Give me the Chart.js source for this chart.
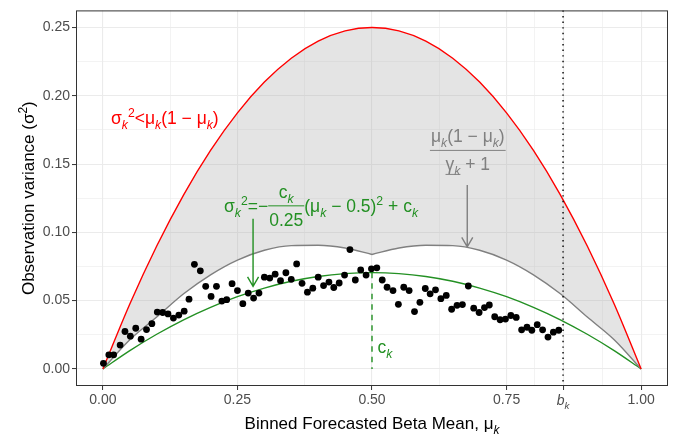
<!DOCTYPE html>
<html>
<head>
<meta charset="utf-8">
<script src="https://cdn.jsdelivr.net/npm/chart.js@4.4.0/dist/chart.umd.min.js"></script>
<style>
  html, body { margin: 0; padding: 0; background: #fff; }
</style>
</head>
<body>
<canvas id="chart" width="684" height="434"></canvas>
<script>
// binned forecasted beta means and the observed variance in each bin
const binMean = [
  0.001, 0.011, 0.020, 0.032, 0.041, 0.051, 0.061, 0.071, 0.081, 0.091,
  0.101, 0.111, 0.121, 0.131, 0.141, 0.151, 0.160, 0.170, 0.181, 0.191,
  0.201, 0.211, 0.221, 0.230, 0.240, 0.250, 0.260, 0.270, 0.280, 0.290,
  0.300, 0.310, 0.320, 0.330, 0.340, 0.350, 0.360, 0.370, 0.380, 0.390,
  0.400, 0.410, 0.420, 0.429, 0.439, 0.449, 0.459, 0.469, 0.479, 0.489,
  0.499, 0.509, 0.519, 0.528, 0.539, 0.549, 0.559, 0.569, 0.579, 0.589,
  0.599, 0.608, 0.618, 0.628, 0.638, 0.648, 0.658, 0.668, 0.679, 0.689,
  0.699, 0.709, 0.718, 0.728, 0.738, 0.748, 0.758, 0.768, 0.778, 0.788,
  0.797, 0.807, 0.817, 0.827, 0.837, 0.847
];
const obsVar = [
  0.0041, 0.0103, 0.0103, 0.0175, 0.0274, 0.0240, 0.0298, 0.0218, 0.0288, 0.0331,
  0.0416, 0.0413, 0.0403, 0.0372, 0.0394, 0.0423, 0.0511, 0.0766, 0.0718, 0.0605,
  0.0531, 0.0605, 0.0497, 0.0507, 0.0624, 0.0574, 0.0478, 0.0555, 0.0519, 0.0555,
  0.0672, 0.0665, 0.0694, 0.0646, 0.0704, 0.0656, 0.0769, 0.0627, 0.0562, 0.0591,
  0.0672, 0.0610, 0.0636, 0.0596, 0.0629, 0.0687, 0.0874, 0.0651, 0.0725, 0.0687,
  0.0733, 0.0740, 0.0651, 0.0598, 0.0574, 0.0473, 0.0598, 0.0574, 0.0420, 0.0488,
  0.0589, 0.0550, 0.0579, 0.0514, 0.0538, 0.0437, 0.0466, 0.0471, 0.0607, 0.0445,
  0.0413, 0.0449, 0.0468, 0.0382, 0.0360, 0.0365, 0.0391, 0.0377, 0.0286, 0.0305,
  0.0283, 0.0324, 0.0286, 0.0233, 0.0269, 0.0283
];

// the three bound curves, read every 0.05 along mu
const curveMu = [0.00, 0.05, 0.10, 0.15, 0.20, 0.25, 0.30, 0.35, 0.40, 0.45, 0.50,
                 0.55, 0.60, 0.65, 0.70, 0.75, 0.80, 0.85, 0.90, 0.95, 1.00];
const upperBound = [0, 0.0475, 0.0900, 0.1275, 0.1600, 0.1875, 0.2100, 0.2275, 0.2400, 0.2475, 0.2500,
                    0.2475, 0.2400, 0.2275, 0.2100, 0.1875, 0.1600, 0.1275, 0.0900, 0.0475, 0];
const grayBound = [0, 0.0214, 0.0380, 0.0550, 0.0689, 0.0797, 0.0869, 0.0903, 0.0905, 0.0885, 0.0838,
                   0.0885, 0.0905, 0.0903, 0.0869, 0.0797, 0.0689, 0.0550, 0.0380, 0.0214, 0];
const greenFit = [0, 0.0134, 0.0254, 0.0360, 0.0451, 0.0529, 0.0592, 0.0642, 0.0677, 0.0698, 0.0705,
                  0.0698, 0.0677, 0.0642, 0.0592, 0.0529, 0.0451, 0.0360, 0.0254, 0.0134, 0];

const bK = 0.855;
const cK = 0.0705;

const xBreaks = [0, 0.25, 0.5, 0.75, bK, 1];
const xLabels = ['0.00', '0.25', '0.50', '0.75', '', '1.00'];
const yBreaks = [0, 0.05, 0.10, 0.15, 0.20, 0.25];
const yLabels = ['0.00', '0.05', '0.10', '0.15', '0.20', '0.25'];

const RED = '#ff0000';
const GREEN = '#239023';
const GRAY = '#808080';
const FONT = '"Liberation Sans", Arial, sans-serif';
const TICK_SIZE = 14;

function pts(xs, ys) {
  return xs.map((v, i) => ({ x: v, y: ys[i] }));
}
// minor grid lines sit half way between the breaks
function withMinor(br) {
  const out = [];
  br.forEach((v, i) => {
    if (i > 0) out.push((br[i - 1] + v) / 2);
    out.push(v);
  });
  return out;
}
const isMajor = (br, v) => br.some(b => Math.abs(b - v) < 1e-9);

const half = Math.floor(curveMu.length / 2);
const leftMu = curveMu.slice(0, half + 1), rightMu = curveMu.slice(half);

// ---- plotmath-ish text helpers ----
function partFont(kind, size) {
  const small = kind === 'sub' || kind === 'sup';
  const it = kind === 'i' || kind === 'sub';
  return (it ? 'italic ' : '') + (small ? size * 0.7 : size) + 'px ' + FONT;
}
function partDy(kind, size) {
  if (kind === 'sub') return size * 0.28;
  if (kind === 'sup') return -size * 0.42;
  return 0;
}
function measure(ctx, parts, size) {
  let w = 0;
  parts.forEach(([t, k]) => { ctx.font = partFont(k, size); w += ctx.measureText(t).width; });
  return w;
}
function drawParts(ctx, x, y, parts, size) {
  parts.forEach(([t, k]) => {
    ctx.font = partFont(k, size);
    ctx.fillText(t, x, y + partDy(k, size));
    x += ctx.measureText(t).width;
  });
  return x;
}

function arrowDown(ctx, x, y0, y1) {
  ctx.beginPath();
  ctx.moveTo(x, y0); ctx.lineTo(x, y1);
  ctx.moveTo(x - 5.5, y1 - 9.5); ctx.lineTo(x, y1); ctx.lineTo(x + 5.5, y1 - 9.5);
  ctx.stroke();
}

const annotations = {
  id: 'annotations',
  afterDatasetsDraw(chart) {
    const { ctx, chartArea: a, scales: { x, y } } = chart;
    const px = v => x.getPixelForValue(v), py = v => y.getPixelForValue(v);
    ctx.save();
    ctx.lineCap = 'butt';

    // b_k dotted line
    ctx.strokeStyle = '#000';
    ctx.lineWidth = 1.4;
    ctx.setLineDash([1.4, 4.2]);
    ctx.beginPath(); ctx.moveTo(px(bK), a.top); ctx.lineTo(px(bK), a.bottom); ctx.stroke();

    // c_k dashed drop line
    ctx.strokeStyle = GREEN;
    ctx.setLineDash([5.5, 5]);
    ctx.beginPath(); ctx.moveTo(px(0.5), py(cK)); ctx.lineTo(px(0.5), py(0)); ctx.stroke();
    ctx.setLineDash([]);

    // arrows
    ctx.lineWidth = 1.4;
    ctx.strokeStyle = GREEN;
    arrowDown(ctx, px(0.279), py(0.110), py(0.0605));
    ctx.strokeStyle = GRAY;
    arrowDown(ctx, px(0.677), py(0.1347), py(0.0893));

    const S = 17.5;
    ctx.textBaseline = 'alphabetic';
    ctx.textAlign = 'left';

    // red bound label
    ctx.fillStyle = RED;
    drawParts(ctx, px(0.0150), py(0.179), [
      ['σ', 'n'], ['k', 'sub'], ['2', 'sup'], ['<', 'n'], ['μ', 'n'], ['k', 'sub'],
      ['(1 − ', 'n'], ['μ', 'n'], ['k', 'sub'], [')', 'n']
    ], S);

    // green parabola label
    ctx.fillStyle = GREEN;
    ctx.strokeStyle = GREEN;
    const gBase = py(0.115);
    let cx = drawParts(ctx, px(0.225), gBase, [
      ['σ', 'n'], ['k', 'sub'], ['2', 'sup'], ['=', 'n'], ['−', 'n']
    ], S);
    const num = [['c', 'n'], ['k', 'sub']], den = [['0.25', 'n']];
    const nw = measure(ctx, num, S), dw = measure(ctx, den, S);
    const fw = Math.max(nw, dw) + 2;
    const barY = gBase - 6;
    ctx.lineWidth = 1;
    ctx.beginPath(); ctx.moveTo(cx, barY); ctx.lineTo(cx + fw, barY); ctx.stroke();
    drawParts(ctx, cx + (fw - nw) / 2, barY - 8, num, S);
    drawParts(ctx, cx + (fw - dw) / 2, barY + 20, den, S);
    cx += fw;
    drawParts(ctx, cx, gBase, [
      ['(', 'n'], ['μ', 'n'], ['k', 'sub'], [' − 0.5)', 'n'], ['2', 'sup'], [' + c', 'n'], ['k', 'sub']
    ], S);

    // c_k label near the drop line
    drawParts(ctx, px(0.510), py(0.0115), [['c', 'n'], ['k', 'sub']], S);

    // gray bound label (fraction)
    ctx.fillStyle = GRAY;
    ctx.strokeStyle = GRAY;
    const gx = px(0.678), gBar = py(0.160);
    const gnum = [['μ', 'n'], ['k', 'sub'], ['(1 − ', 'n'], ['μ', 'n'], ['k', 'sub'], [')', 'n']];
    const gdenA = [['γ', 'n'], ['k', 'sub']], gdenB = [[' + 1', 'n']];
    const gnw = measure(ctx, gnum, S);
    const gaw = measure(ctx, gdenA, S), gbw = measure(ctx, gdenB, S);
    const gfw = Math.max(gnw, gaw + gbw) + 2;
    ctx.lineWidth = 1;
    ctx.beginPath(); ctx.moveTo(gx - gfw / 2, gBar); ctx.lineTo(gx + gfw / 2, gBar); ctx.stroke();
    drawParts(ctx, gx - gnw / 2, gBar - 8, gnum, S);
    const dx0 = gx - (gaw + gbw) / 2;
    const dEnd = drawParts(ctx, dx0, gBar + 20, gdenA, S);
    ctx.beginPath(); ctx.moveTo(dx0, gBar + 24); ctx.lineTo(dEnd, gBar + 24); ctx.stroke();
    drawParts(ctx, dEnd, gBar + 20, gdenB, S);

    // panel border
    ctx.strokeStyle = '#333333';
    ctx.lineWidth = 1;
    ctx.strokeRect(a.left + 0.5, a.top + 0.5, a.right - a.left - 1, a.bottom - a.top - 1);

    // b_k tick label
    ctx.fillStyle = '#4d4d4d';
    const bParts = [['b', 'i'], ['k', 'sub']];
    const bw = measure(ctx, bParts, TICK_SIZE);
    drawParts(ctx, px(bK) - bw / 2, a.bottom + 19, bParts, TICK_SIZE);

    // axis titles
    ctx.fillStyle = '#000';
    const xt = [['Binned Forecasted Beta Mean, μ', 'n'], ['k', 'sub']];
    const xw = measure(ctx, xt, 17);
    drawParts(ctx, (a.left + a.right) / 2 - xw / 2, 429, xt, 17);

    const yt = [['Observation variance (σ', 'n'], ['2', 'sup'], [')', 'n']];
    const yw = measure(ctx, yt, 17);
    ctx.translate(34, (a.top + a.bottom) / 2);
    ctx.rotate(-Math.PI / 2);
    drawParts(ctx, -yw / 2, 0, yt, 17);

    ctx.restore();
  }
};

const xTicks = withMinor(xBreaks);
const yTicks = withMinor(yBreaks);

new Chart(document.getElementById('chart'), {
  type: 'scatter',
  data: {
    datasets: [
      {
        type: 'line', data: pts(curveMu, upperBound), borderColor: RED, borderWidth: 1.4,
        pointRadius: 0, cubicInterpolationMode: 'monotone', fill: false, order: 1
      },
      {
        type: 'line', data: pts(leftMu, grayBound.slice(0, half + 1)), borderColor: GRAY, borderWidth: 1.4,
        pointRadius: 0, cubicInterpolationMode: 'monotone',
        fill: { target: 0 }, backgroundColor: 'rgba(170,170,170,0.32)', order: 2
      },
      {
        type: 'line', data: pts(rightMu, grayBound.slice(half)), borderColor: GRAY, borderWidth: 1.4,
        pointRadius: 0, cubicInterpolationMode: 'monotone',
        fill: { target: 0 }, backgroundColor: 'rgba(170,170,170,0.32)', order: 2
      },
      {
        type: 'line', data: pts(curveMu, greenFit), borderColor: GREEN, borderWidth: 1.4,
        pointRadius: 0, cubicInterpolationMode: 'monotone', fill: false, order: 3
      },
      {
        data: pts(binMean, obsVar), backgroundColor: '#000', borderColor: '#000',
        pointRadius: 3.4, borderWidth: 0, order: 0
      }
    ]
  },
  options: {
    responsive: false,
    animation: false,
    events: [],
    layout: { padding: { top: 5, right: 16, left: 0, bottom: 0 } },
    plugins: { legend: { display: false }, tooltip: { enabled: false } },
    scales: {
      x: {
        type: 'linear', min: -0.05, max: 1.05,
        afterBuildTicks: s => { s.ticks = xTicks.map(v => ({ value: v })); },
        afterFit: s => { s.height = 48; },
        border: { display: false },
        grid: {
          color: '#ebebeb',
          lineWidth: c => isMajor(xBreaks, c.tick.value) ? 1.1 : 0.6,
          tickColor: c => isMajor(xBreaks, c.tick.value) ? '#333333' : 'rgba(0,0,0,0)',
          tickLength: 4,
          tickWidth: 1
        },
        ticks: {
          autoSkip: false, maxRotation: 0, padding: 2,
          color: '#4d4d4d', font: { family: FONT, size: TICK_SIZE },
          callback: v => {
            const i = xBreaks.findIndex(b => Math.abs(b - v) < 1e-9);
            return i < 0 ? '' : xLabels[i];
          }
        }
      },
      y: {
        type: 'linear', min: -0.0125, max: 0.2625,
        afterBuildTicks: s => { s.ticks = yTicks.map(v => ({ value: v })); },
        afterFit: s => { s.width = 76; },
        border: { display: false },
        grid: {
          color: '#ebebeb',
          lineWidth: c => isMajor(yBreaks, c.tick.value) ? 1.1 : 0.6,
          tickColor: c => isMajor(yBreaks, c.tick.value) ? '#333333' : 'rgba(0,0,0,0)',
          tickLength: 4,
          tickWidth: 1
        },
        ticks: {
          autoSkip: false, padding: 2,
          color: '#4d4d4d', font: { family: FONT, size: TICK_SIZE },
          callback: v => {
            const i = yBreaks.findIndex(b => Math.abs(b - v) < 1e-9);
            return i < 0 ? '' : yLabels[i];
          }
        }
      }
    }
  },
  plugins: [annotations]
});
</script>
</body>
</html>
